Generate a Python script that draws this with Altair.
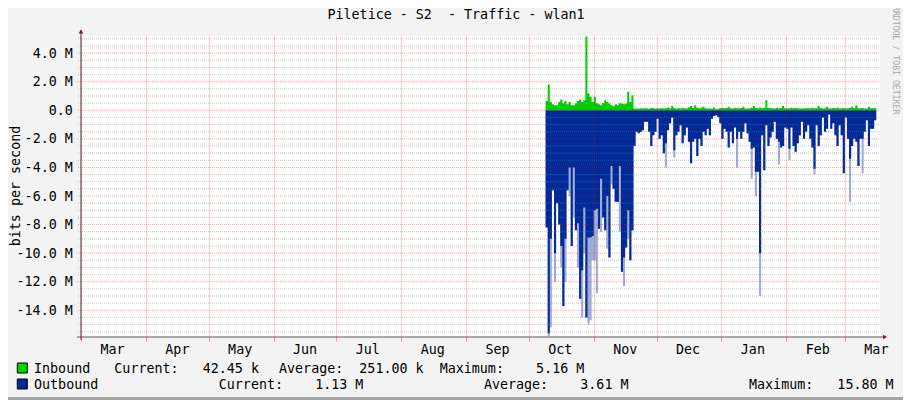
import altair as alt
import pandas as pd

chart_title = "Piletice - S2  - Traffic - wlan1"
y_label = "bits per second"
credit = "RRDTOOL / TOBI OETIKER"

# daily samples starting at first_day (values in M bits/s)
first_day = "2012-10-09"
inbound = [
    0.65, 1.8, 0.58, 0.42, 0.35, 0.35, 0.58, 0.75, 0.5, 0.65,
    0.42, 0.58, 0.35, 0.35, 0.47, 0.65, 0.75, 0.58, 0.7, 5.16,
    1.17, 0.94, 0.58, 0.94, 0.5, 0.42, 0.35, 0.5, 0.7, 0.58,
    0.47, 0.35, 0.28, 0.42, 0.35, 0.5, 0.47, 0.42, 0.47, 1.3,
    0.58, 1.05, 0.12,
    0.12, 0.10, 0.14, 0.12, 0.15, 0.13, 0.11, 0.18, 0.14, 0.12,
    0.15, 0.13, 0.16, 0.12, 0.14, 0.20, 0.15, 0.30, 0.16, 0.13,
    0.14, 0.12, 0.18, 0.15, 0.13, 0.22, 0.30, 0.16, 0.35, 0.18,
    0.15, 0.20, 0.25, 0.14, 0.13, 0.12, 0.10, 0.20, 0.08, 0.10,
    0.14, 0.18, 0.15, 0.16, 0.25, 0.14, 0.13, 0.18, 0.15, 0.14,
    0.16, 0.25, 0.13, 0.12, 0.15, 0.18, 0.30, 0.16, 0.14, 0.20,
    0.15, 0.18, 0.70, 0.16, 0.14, 0.15, 0.12, 0.18, 0.15, 0.16,
    0.30, 0.14, 0.13, 0.15, 0.18, 0.14, 0.16, 0.15, 0.13, 0.12,
    0.15, 0.14, 0.16, 0.13, 0.18, 0.15, 0.14, 0.30, 0.16, 0.13,
    0.15, 0.25, 0.14, 0.12, 0.16, 0.15, 0.18, 0.13, 0.14, 0.16,
    0.12, 0.15, 0.18, 0.25, 0.16, 0.35, 0.15, 0.14, 0.16, 0.13,
    0.12, 0.25, 0.15, 0.14, 0.16, 0.15,
]
outbound = [
    -8.2, -15.6, -9.0, -5.6, -10.0, -6.5, -8.0, -9.5, -13.7, -9.0,
    -5.6, -4.0, -9.5, -4.0, -8.4, -7.9, -13.2, -11.2, -6.8, -14.5,
    -8.9, -8.9, -8.8, -7.0, -6.9, -8.3, -4.8, -7.5, -8.4, -6.0,
    -10.3, -3.9, -5.5, -6.4, -6.4, -3.9, -11.3, -10.3, -9.6, -7.0,
    -10.5, -8.4, -2.5, -1.5, -1.6, -1.5, -1.4, -0.8, -0.8, -1.5,
    -2.5, -1.75, -1.5, -0.6, -2.0, -1.75, -3.0, -2.3, -1.4, -0.9,
    -0.5, -2.8, -1.75, -1.5, -1.05, -2.3, -1.75, -1.2, -2.2, -3.7,
    -2.2, -2.0, -3.2, -2.0, -2.5, -1.5, -1.75, -1.3, -1.75, -0.6,
    -0.4, -0.35, -0.45, -0.9, -2.0, -1.3, -1.5, -2.6, -1.5, -2.3,
    -1.2, -2.0, -1.5, -2.0, -1.5, -0.9, -1.6, -2.2, -2.7, -2.6,
    -4.3, -4.3, -10.0, -1.75, -4.2, -1.05, -2.5, -1.9, -1.5, -0.8,
    -2.0, -2.2, -2.6, -2.5, -1.2, -1.3, -2.7, -1.2, -2.5, -2.9,
    -2.3, -1.75, -0.8, -2.0, -1.5, -1.05, -2.0, -2.6, -4.1, -1.05,
    -2.5, -1.75, -0.5, -1.5, -1.3, -0.3, -1.3, -0.9, -1.75, -2.5,
    -1.05, -1.75, -4.4, -0.5, -2.0, -3.4, -2.5, -2.0, -2.2, -3.9,
    -2.0, -2.0, -1.5, -0.7, -2.5, -1.3, -1.3, -0.7, -2.0,
]
# faint peaks of outbound spikes (sample index, value)
peak_index = [1, 2, 4, 7, 9, 11, 13, 15, 17, 18, 20, 21, 22, 23, 24, 26,
              29, 31, 35, 37, 39, 57, 61, 91, 98, 100, 102, 111, 116, 128, 145, 151]
peak_values = [-15.8, -15.2, -12.0, -11.0, -12.0, -6.0, -7.5, -11.0, -14.5, -10.0, -15.0,
               -14.7, -10.5, -10.5, -12.8, -8.5, -9.7, -5.2, -8.5, -12.3, -9.0, -4.0,
               -3.3, -4.0, -4.8, -6.0, -13.0, -3.8, -3.5, -4.5, -6.4, -4.4]

y_major = [-14, -12, -10, -8, -6, -4, -2, 0, 2, 4]
y_minor = [h / 2 for h in range(-31, 11) if h % 4 != 0]
month_ticks = [(2012, m) for m in range(3, 13)] + [(2013, m) for m in range(1, 4)]

series_names = ["Inbound", "Outbound"]
current_vals = ["42.45 k", "1.13 M"]
average_vals = ["251.00 k", "3.61 M"]
maximum_vals = ["5.16 M", "15.80 M"]
series_colors = ["#00CF00", "#002A97"]

# ---------------------------------------------------------------
dates = pd.date_range(first_day, periods=len(outbound), freq="D").strftime("%Y-%m-%d")
peak = list(outbound)
for i, v in zip(peak_index, peak_values):
    peak[i] = min(peak[i], v)
df = pd.DataFrame({"date": dates, "inbound": inbound, "outbound": outbound, "peak": peak})

FONT = "DejaVu Sans Mono"
FS = 13.35
NB = "\u00a0"

x_scale = alt.Scale(type="utc", domain=[alt.DateTime(year=2012, month=3, date=1, utc=True),
                                        alt.DateTime(year=2013, month=3, date=17, hours=19, utc=True)])
y_scale = alt.Scale(domain=[-15.87, 5.2], nice=False, zero=False)

x_axis = alt.Axis(values=[alt.DateTime(year=y, month=m, date=1, utc=True) for y, m in month_ticks],
                  labelExpr="utcFormat(datum.value, '%b')", title=None, domain=False,
                  grid=True, gridColor="#ff0000", gridOpacity=0.38, gridDash=[1, 1], gridWidth=1,
                  ticks=True, tickColor="#ff0000", tickOpacity=0.38, tickSize=4,
                  labelOffset=31, labelPadding=1, labelFont=FONT, labelFontSize=FS,
                  labelColor="#000000", labelFlush=False, labelOverlap=False, zindex=1)
y_axis = alt.Axis(values=y_major, title=None, domain=False, grid=False, ticks=False,
                  labelExpr="datum.value == 0 ? '0.0" + NB + NB + "' : (datum.value < 0 ? '-' : '') + format(abs(datum.value), '.1f') + ' M'",
                  labelPadding=8.7, labelFont=FONT, labelFontSize=FS, labelColor="#000000")

x_enc = alt.X("date:T", scale=x_scale, axis=x_axis, title=None)

def y_enc(field):
    return alt.Y(field, scale=y_scale, axis=y_axis, title=None)

base = alt.Chart(df)
peak_area = base.mark_area(interpolate="step-after", color="#9fadd9").encode(
    x=x_enc, y=y_enc("peak:Q"), y2=alt.datum(0))
out_area = base.mark_area(interpolate="step-after", color=series_colors[1]).encode(
    x=x_enc, y=y_enc("outbound:Q"), y2=alt.datum(0))
in_area = base.mark_area(interpolate="step-after", color=series_colors[0]).encode(
    x=x_enc, y=y_enc("inbound:Q"), y2=alt.datum(0))

minor_grid = alt.Chart(pd.DataFrame({"v": y_minor})).mark_rule(
    color="#808080", strokeOpacity=0.45, strokeDash=[1, 1], strokeWidth=1).encode(
    y=y_enc("v:Q"), x=alt.value(-3), x2=alt.value(799))
major_grid = alt.Chart(pd.DataFrame({"v": y_major})).mark_rule(
    color="#ff0000", strokeOpacity=0.38, strokeDash=[1, 1], strokeWidth=1).encode(
    y=y_enc("v:Q"), x=alt.value(-3), x2=alt.value(799))

one = alt.Data(values=[{"k": 0}])
y_line = alt.Chart(one).mark_rule(color="#5a5a5a", strokeWidth=1.2).encode(
    x=alt.value(0), y=alt.value(-6), y2=alt.value(304))
x_line = alt.Chart(one).mark_rule(color="#5a5a5a", strokeWidth=1.2).encode(
    x=alt.value(-4), x2=alt.value(802), y=alt.value(301))
up_arrow = alt.Chart(one).mark_point(shape="triangle-up", filled=True, color="#8b1a1a",
                                     size=22, opacity=1).encode(x=alt.value(0), y=alt.value(-4.5))
right_arrow = alt.Chart(one).mark_point(shape="triangle-right", filled=True, color="#8b1a1a",
                                        size=22, opacity=1).encode(x=alt.value(804), y=alt.value(301))

def label(text, x, y, **kw):
    opts = dict(font=FONT, fontSize=FS, color="#000000", baseline="alphabetic", align="left")
    opts.update(kw)
    return alt.Chart(alt.Data(values=[{"t": text.replace(" ", NB)}])).mark_text(**opts).encode(
        text="t:N", x=alt.value(x), y=alt.value(y))

title_mark = label(chart_title, 375, -16.7, align="center")
ytitle_mark = label(y_label, -61.5, 150, align="center", angle=270)
credit_mark = label(credit, 812, -30, fontSize=8.2, color="#a8a8a8", angle=90)

row1a = f"{series_names[0]:<10}Current:{current_vals[0]:>10}"
row1b = f"Average:{average_vals[0]:>10}  Maximum:{maximum_vals[0]:>10}"
row2 = f"{series_names[1]:<23}Current:{current_vals[1]:>10}{'':15}Average:{average_vals[1]:>10}{'':15}Maximum:{maximum_vals[1]:>10}"
leg1a = label(row1a, -47, 336.7)
leg1b = label(row1b, 198, 336.7)
leg2 = label(row2, -47, 352.8)
sw1 = alt.Chart(one).mark_square(size=100, filled=True, color=series_colors[0], stroke="#000000",
                                 strokeWidth=1, opacity=1).encode(x=alt.value(-58.7), y=alt.value(332))
sw2 = alt.Chart(one).mark_square(size=100, filled=True, color=series_colors[1], stroke="#000000",
                                 strokeWidth=1, opacity=1).encode(x=alt.value(-58.7), y=alt.value(348))

edge_b = alt.Chart(one).mark_rule(color="#a6a6a6", strokeWidth=3).encode(
    x=alt.value(-73), x2=alt.value(822), y=alt.value(362.5))

chart = alt.layer(
    peak_area, out_area, in_area, minor_grid, major_grid,
    y_line, x_line, up_arrow, right_arrow,
    title_mark, ytitle_mark, credit_mark, leg1a, leg1b, leg2, sw1, sw2, edge_b,
).properties(
    width=799, height=301, autosize="none",
    padding={"left": 73, "top": 28, "right": 23, "bottom": 63},
    background="#f3f3f3",
).configure_view(fill="white", strokeWidth=0)

chart.save("out.html", embed_options={"renderer": "svg", "actions": False})
